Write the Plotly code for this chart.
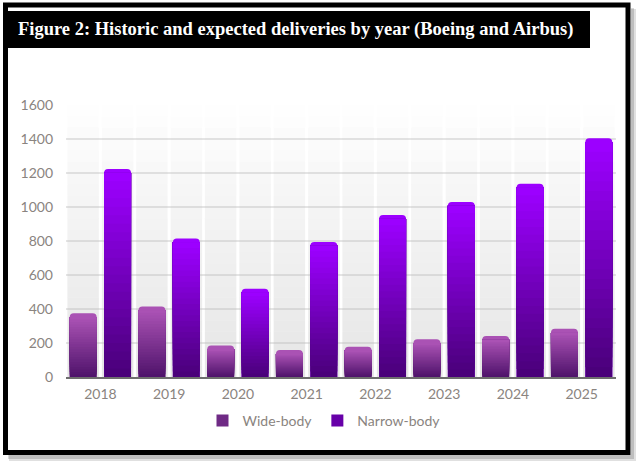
import plotly.graph_objects as go

# ---------------- data ----------------
years = ['2018', '2019', '2020', '2021', '2022', '2023', '2024', '2025']
wide_body = [375, 415, 186, 159, 178, 222, 241, 284]
narrow_body = [1224, 814, 519, 794, 953, 1029, 1137, 1404]
y_ticks = [0, 200, 400, 600, 800, 1000, 1200, 1400, 1600]
y_max = 1600
title_text = "Figure 2: Historic and expected deliveries by year (Boeing and Airbus)"

# ---------------- style ----------------
W, H = 640, 467
ML, MR, MT, MB = 66, 24, 105, 90
PW, PH = W - ML - MR, H - MT - MB

N_SEG = 24
CAP = 22  # data units reserved for rounded solid top

series = [
    dict(name='Wide-body', vals=wide_body, top=(170, 82, 180), bot=(80, 20, 108),
         offset=-0.446, track_offset=-0.48),
    dict(name='Narrow-body', vals=narrow_body, top=(156, 0, 255), bot=(74, 0, 122),
         offset=0.054, track_offset=0.022),
]
BAR_W = 0.392
TRACK_W = 0.458


def mix(c1, c2, t):
    return 'rgb(%d,%d,%d)' % tuple(round(a + (b - a) * t) for a, b in zip(c1, c2))


fig = go.Figure()

# background tracks (full height, light gray gradient, semi-transparent so the grid shows through)
for s in series:
    for k in range(N_SEG):
        t = k / (N_SEG - 1)
        alpha = 0.36 - 0.34 * t
        fig.add_trace(go.Bar(
            x=years, y=[y_max / N_SEG] * len(years), base=[y_max * k / N_SEG] * len(years),
            offset=s['track_offset'], width=TRACK_W,
            marker=dict(color='rgba(185,185,185,%.3f)' % alpha, line=dict(width=0)),
            showlegend=False, hoverinfo='skip'))

# bars with vertical gradient
for i, s in enumerate(series):
    vals = s['vals']
    # solid rounded top
    fig.add_trace(go.Bar(
        x=years, y=vals, offset=s['offset'], width=BAR_W,
        marker=dict(color=mix(s['bot'], s['top'], 1.0), line=dict(width=0), cornerradius=4),
        showlegend=False, name=s['name'], legendgroup=s['name'], hoverinfo='skip'))
    body = [max(v - CAP, 0) for v in vals]
    for k in range(N_SEG):
        t = k / (N_SEG - 1)
        fig.add_trace(go.Bar(
            x=years, y=[b * (N_SEG - k) / N_SEG for b in body], base=[b * k / N_SEG for b in body],
            offset=s['offset'], width=BAR_W,
            marker=dict(color=mix(s['bot'], s['top'], t), line=dict(width=0)),
            name=s['name'], legendgroup=s['name'], legendrank=i + 1,
            customdata=vals, hovertemplate='%{x}: %{customdata}<extra>' + s['name'] + '</extra>',
            showlegend=(k == N_SEG // 3)))

tick_font = dict(family='Lato, Open Sans, sans-serif', size=14, color='#8a8480')


def px2x(px):
    return (px - ML) / PW


def py2y(py):
    return (H - MB - py) / PH


shapes = [
    # drop shadow
    dict(type='rect', xref='paper', yref='paper', x0=px2x(9), x1=px2x(636), y0=py2y(461), y1=py2y(9),
         fillcolor='rgba(0,0,0,0.12)', line=dict(width=0), layer='below'),
    dict(type='rect', xref='paper', yref='paper', x0=px2x(8), x1=px2x(634), y0=py2y(459), y1=py2y(8),
         fillcolor='rgba(0,0,0,0.15)', line=dict(width=0), layer='below'),
    dict(type='rect', xref='paper', yref='paper', x0=px2x(3), x1=px2x(631), y0=py2y(455), y1=py2y(3),
         fillcolor='white', line=dict(width=0), layer='below'),
    # frame
    dict(type='rect', xref='paper', yref='paper', x0=px2x(5.5), x1=px2x(628), y0=py2y(452.5), y1=py2y(5),
         fillcolor='rgba(0,0,0,0)', line=dict(color='black', width=5), layer='above'),
    # title bar
    dict(type='rect', xref='paper', yref='paper', x0=px2x(8), x1=px2x(590), y0=py2y(48), y1=py2y(11),
         fillcolor='black', line=dict(width=0), layer='above'),
]

fig.update_layout(
    width=W, height=H,
    margin=dict(l=ML, r=MR, t=MT, b=MB),
    paper_bgcolor='white', plot_bgcolor='white',
    barmode='overlay',
    shapes=shapes,
    annotations=[dict(
        xref='paper', yref='paper', x=px2x(16), y=py2y(29.5), xanchor='left', yanchor='middle',
        text='<b>' + title_text + '</b>', showarrow=False,
        font=dict(family='Liberation Serif, serif', size=18.5, color='white'))],
    xaxis=dict(type='category', categoryorder='array', categoryarray=years,
               showgrid=False, showline=True, linecolor='#6e6e6e', linewidth=1.5,
               ticks='', tickfont=tick_font, ticklabelstandoff=3, zeroline=False),
    yaxis=dict(range=[0, y_max], tickvals=y_ticks, showgrid=True, gridcolor='#e4e4e4', gridwidth=1.5,
               zeroline=False, showline=False, ticks='', tickfont=tick_font, ticklabelstandoff=12),
    legend=dict(orientation='h', x=px2x(324), xanchor='center', y=py2y(421), yanchor='middle',
                font=dict(family='Lato, Open Sans, sans-serif', size=14, color='#8a8480'),
                bgcolor='rgba(0,0,0,0)', itemwidth=30, traceorder='normal'),
    showlegend=True,
)

fig.write_html("out.html")
